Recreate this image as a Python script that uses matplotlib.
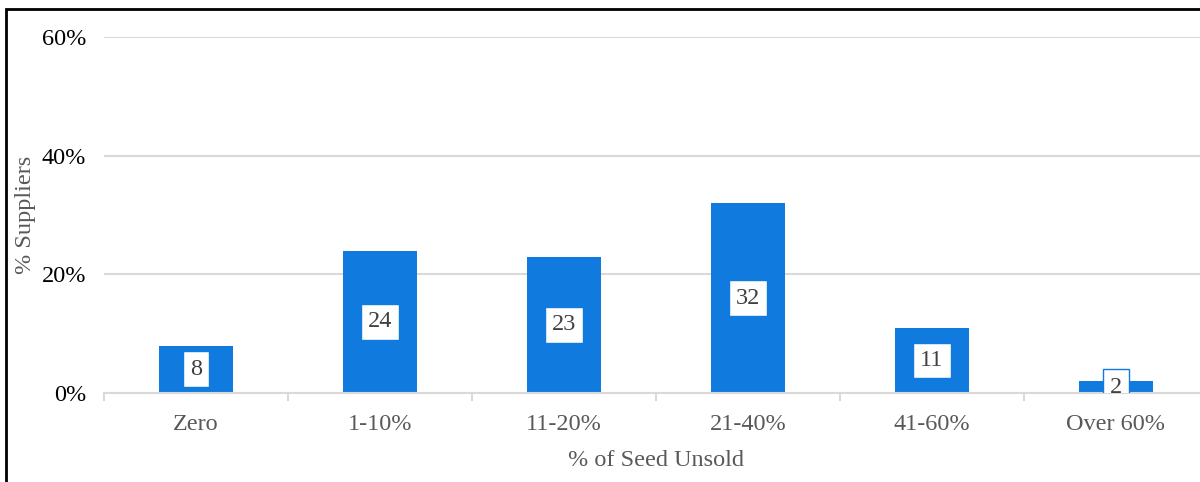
import numpy as np
import matplotlib.pyplot as plt
from matplotlib.patches import Rectangle
from matplotlib.ticker import PercentFormatter

plt.rcParams['font.family'] = ['Liberation Serif', 'DejaVu Serif']

categories = ['Zero', '1-10%', '11-20%', '21-40%', '41-60%', 'Over 60%']
suppliers_pct = [8, 24, 23, 32, 11, 2]
y_ticks = [0, 20, 40, 60]

bar_color = '#117ADE'
grid_color = '#D9D9D9'
text_gray = '#595959'
fs = 17.5

fig = plt.figure(figsize=(12, 4.82), dpi=100)
ax = fig.add_axes([104 / 1200, 89 / 482, 1104 / 1200, 356 / 482])

x = np.arange(len(categories))
ax.bar(x, suppliers_pct, width=0.40, color=bar_color, zorder=2)

# value labels sit in white boxes at mid-height of each bar
for xi, v in zip(x, suppliers_pct):
    ax.text(xi, v / 2, str(v), ha='center', va='center', fontsize=fs,
            color='#404040', zorder=3, clip_on=True,
            bbox=dict(boxstyle='square,pad=0.3', facecolor='white',
                      edgecolor=bar_color, linewidth=1))

ax.set_xlim(-0.5, len(categories) - 0.5)
ax.set_ylim(0, 60)
ax.set_yticks(y_ticks)
ax.yaxis.set_major_formatter(PercentFormatter(decimals=0))
ax.tick_params(axis='y', length=0, pad=13, labelsize=fs, labelcolor='black')

ax.set_xticks(x)
ax.set_xticklabels(categories)
ax.tick_params(axis='x', which='major', length=0, pad=15, labelsize=fs,
               labelcolor=text_gray)
ax.set_xticks(np.arange(len(categories) + 1) - 0.5, minor=True)
ax.tick_params(axis='x', which='minor', length=6, width=1.5, color=grid_color)

ax.grid(axis='y', color=grid_color, linewidth=1.5, zorder=0)
ax.set_axisbelow(True)
for side in ['top', 'right', 'left']:
    ax.spines[side].set_visible(False)
ax.spines['bottom'].set_color(grid_color)
ax.spines['bottom'].set_linewidth(1.5)

ax.set_xlabel('% of Seed Unsold', fontsize=fs, color=text_gray)
ax.xaxis.set_label_coords(656 / 1200, 1 - 460 / 482, transform=fig.transFigure)
ax.xaxis.label.set_va('center')
ax.set_ylabel('% Suppliers', fontsize=fs, color=text_gray)
ax.yaxis.set_label_coords(26 / 1200, 1 - 215 / 482, transform=fig.transFigure)
ax.yaxis.label.set_va('center')

# chart frame (runs off the right and bottom edges)
fig.patches.append(Rectangle((6 / 1200, -0.1), 1.2, (482 - 8.5) / 482 + 0.1,
                             transform=fig.transFigure, fill=False,
                             edgecolor='black', linewidth=2))

fig.savefig('out.png', dpi=100)
